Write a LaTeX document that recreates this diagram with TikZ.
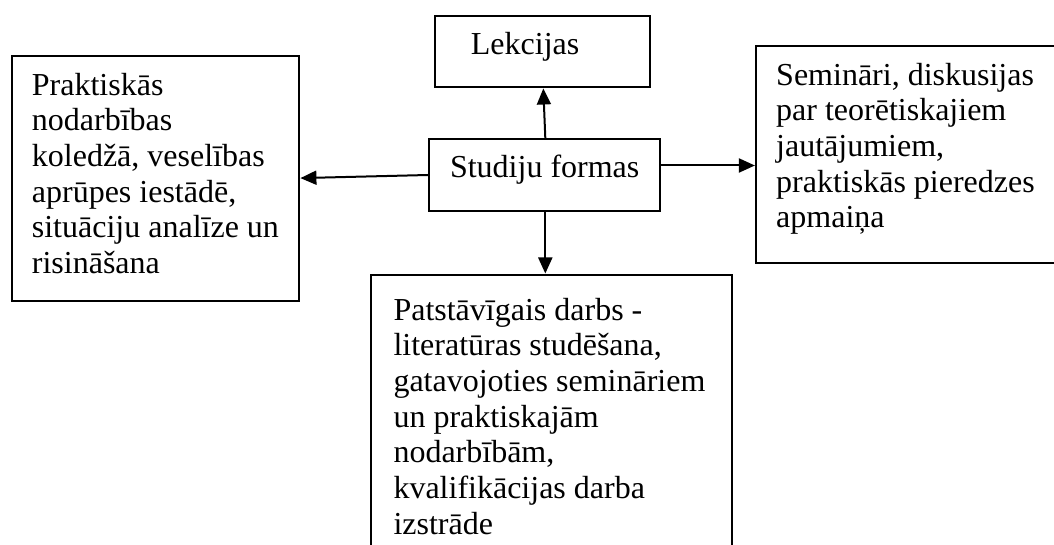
\documentclass[tikz,border=0pt]{standalone}
\usepackage{fontspec}
\setmainfont{Liberation Serif}
\usetikzlibrary{arrows.meta}
\begin{document}
\begin{tikzpicture}[x=1pt,y=-1pt,
  box/.style={draw, line width=2pt, rectangle, inner sep=0pt, anchor=north west},
  txt/.style={inner sep=0pt, anchor=north west, align=left,
              font=\fontsize{32}{35.7}\selectfont},
  arr/.style={line width=2pt, -{Triangle[length=16pt,width=14pt]}}]
% page area
\clip (0,0) rectangle (1054,545);
\fill[white] (0,0) rectangle (1054,545);

% boxes
\node[box, minimum width=215.4pt, minimum height=71.9pt] (lek) at (433.6,14.6) {};
\node[box, minimum width=287.6pt, minimum height=245pt] (pl) at (10.8,54.6) {};
\node[box, minimum width=231.4pt, minimum height=72pt,
      font=\fontsize{32}{35.7}\selectfont, text height=20pt, text depth=14.6pt]
      (c) at (428,138) {Studiju formas};
\node[box, minimum width=330pt, minimum height=216.8pt] (sr) at (754.9,45.2) {};
\node[box, minimum width=360.3pt, minimum height=300pt] (pd) at (370.4,273.5) {};

% box texts
\node[txt] (tlek) at (470.7,29.3) {\strut Lekcijas};
\node[txt] (tpl) at (31.7,70) {\strut Praktiskās\\nodarbības\\koledžā, veselības\\aprūpes iestādē,\\situāciju analīze un\\risināšana};
\node[txt] (tsr) at (776,60) {\strut Semināri, diskusijas\\par teorētiskajiem\\jautājumiem,\\praktiskās pieredzes\\apmaiņa};
\node[txt] (tpd) at (393.3,295) {\strut Patstāvīgais darbs -\\literatūras studēšana,\\gatavojoties semināriem\\un praktiskajām\\nodarbībām,\\kvalifikācijas darba\\izstrāde};

% connectors
\draw[arr] ([xshift=0.6pt]c.north) -- ([xshift=1pt]lek.south);
\draw[arr] (c.west) -- (pl.east);
\draw[arr] ([yshift=9.5pt]c.east) coordinate (r0) -- (r0 -| sr.west);
\draw[arr] ([xshift=0.6pt]c.south) coordinate (d0) -- (d0 |- pd.north);
\end{tikzpicture}
\end{document}
